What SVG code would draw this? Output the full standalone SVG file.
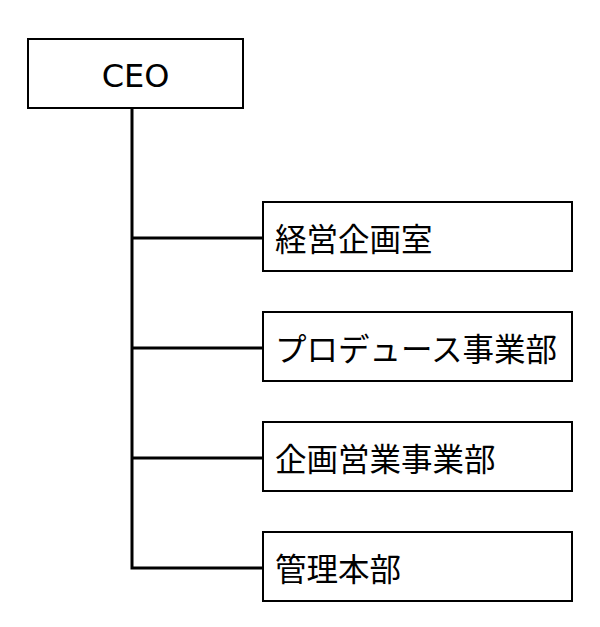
<svg xmlns="http://www.w3.org/2000/svg" width="600" height="627" viewBox="0 0 600 627">
<style>
.box{fill:#fff;stroke:#000;stroke-width:2}
.conn{fill:none;stroke:#000;stroke-width:3}
.t{font-family:"Noto Sans CJK JP","DejaVu Sans",sans-serif;font-size:31.5px;fill:#000}
.c{font-family:"DejaVu Sans","Noto Sans CJK JP",sans-serif;font-size:32px;fill:#000}
</style>
<rect width="600" height="627" fill="#fff"/>
<g id="connectors">
<path class="conn" d="M132,108 V568 H263"/>
<path class="conn" d="M132,238 H263"/>
<path class="conn" d="M132,348 H263"/>
<path class="conn" d="M132,458 H263"/>
</g>
<g id="ceo">
<rect class="box" x="28" y="39" width="215" height="69"/>
<text class="c" x="135.5" y="86.5" text-anchor="middle">CEO</text>
</g>
<g id="keiei">
<rect class="box" x="263" y="202" width="309" height="69"/>
<text class="t" x="275" y="251">経営企画室</text>
</g>
<g id="produce">
<rect class="box" x="263" y="312" width="309" height="69"/>
<text class="t" x="275" y="361">プロデュース事業部</text>
</g>
<g id="kikaku">
<rect class="box" x="263" y="422" width="309" height="69"/>
<text class="t" x="275" y="471">企画営業事業部</text>
</g>
<g id="kanri">
<rect class="box" x="263" y="532" width="309" height="69"/>
<text class="t" x="275" y="581">管理本部</text>
</g>
</svg>
